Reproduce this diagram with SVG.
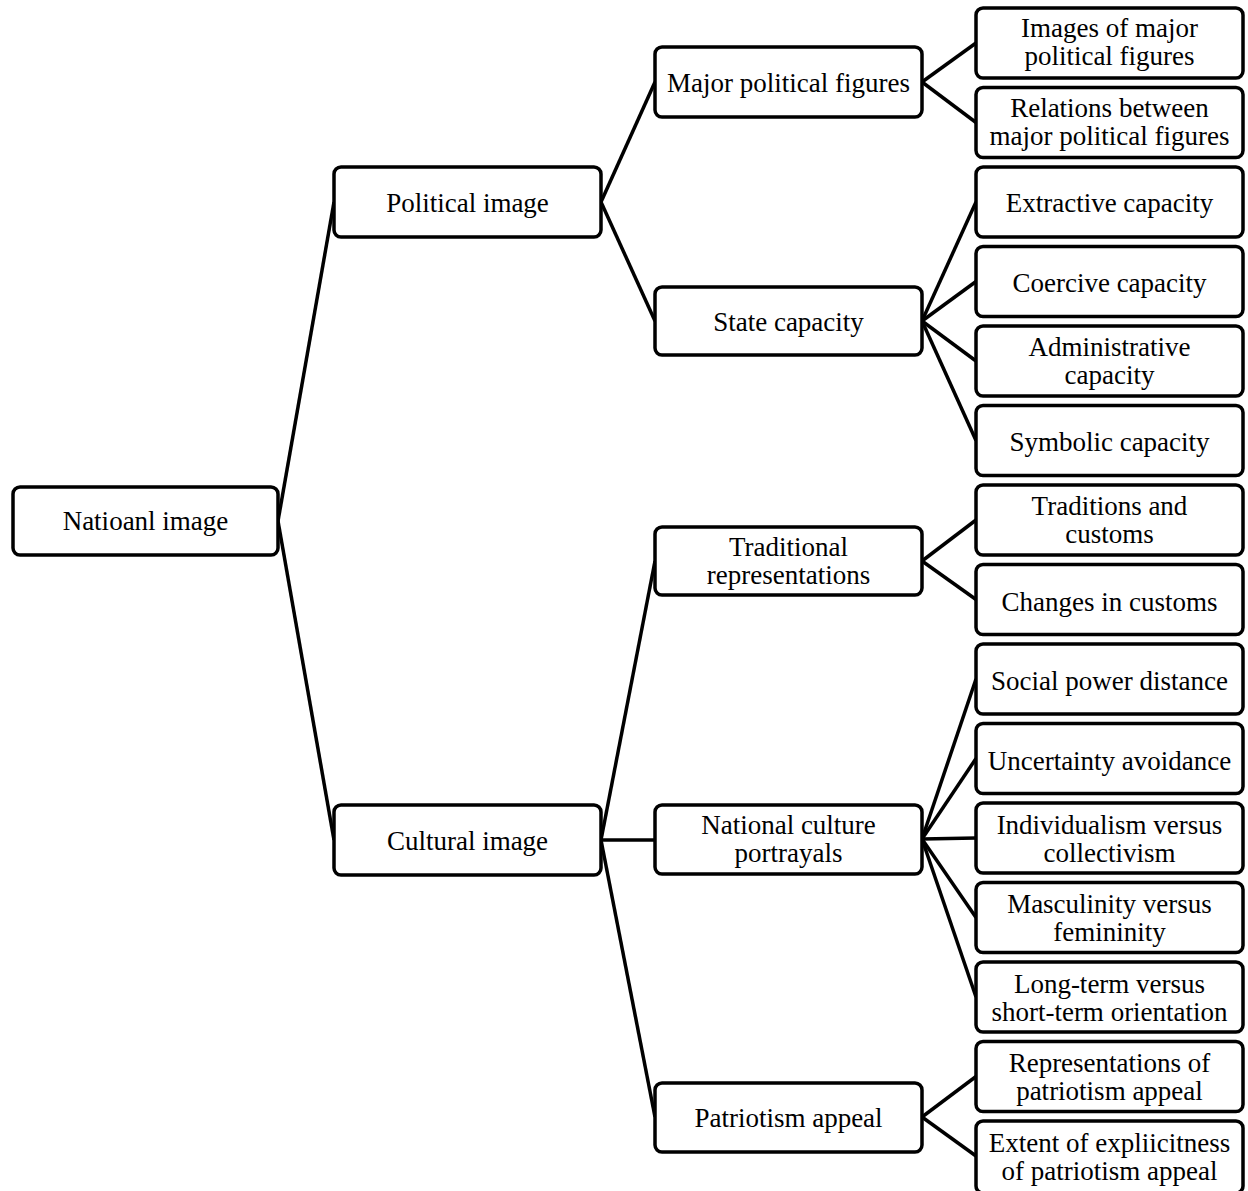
<svg xmlns="http://www.w3.org/2000/svg" width="1248" height="1191" viewBox="0 0 1248 1191">
<style>
.box{fill:#fff;stroke:#000;stroke-width:3.5}
.t{font-family:"Liberation Serif","Times New Roman",serif;font-size:27px;fill:#000;text-anchor:middle}
.c{stroke:#000;stroke-width:3.5;fill:none}
</style>
<rect width="1248" height="1191" fill="#fff"/>
<g id="connectors">
<line class="c" x1="278" y1="521" x2="334" y2="202"/>
<line class="c" x1="278" y1="521" x2="334" y2="840"/>
<line class="c" x1="601" y1="202" x2="655" y2="82"/>
<line class="c" x1="601" y1="202" x2="655" y2="321"/>
<line class="c" x1="601" y1="840" x2="655" y2="561"/>
<line class="c" x1="601" y1="840" x2="655" y2="840"/>
<line class="c" x1="601" y1="840" x2="655" y2="1117"/>
<line class="c" x1="922" y1="82" x2="976" y2="43"/>
<line class="c" x1="922" y1="82" x2="976" y2="122.5"/>
<line class="c" x1="922" y1="321" x2="976" y2="202"/>
<line class="c" x1="922" y1="321" x2="976" y2="281.5"/>
<line class="c" x1="922" y1="321" x2="976" y2="361"/>
<line class="c" x1="922" y1="321" x2="976" y2="440.5"/>
<line class="c" x1="922" y1="561" x2="976" y2="520"/>
<line class="c" x1="922" y1="561" x2="976" y2="599.5"/>
<line class="c" x1="922" y1="839" x2="976" y2="679"/>
<line class="c" x1="922" y1="839" x2="976" y2="758.5"/>
<line class="c" x1="922" y1="839" x2="976" y2="838"/>
<line class="c" x1="922" y1="839" x2="976" y2="917.5"/>
<line class="c" x1="922" y1="839" x2="976" y2="997"/>
<line class="c" x1="922" y1="1117" x2="976" y2="1076.5"/>
<line class="c" x1="922" y1="1117" x2="976" y2="1156"/>
</g>
<g id="root"><rect class="box" x="13" y="487" width="265" height="68" rx="7"/><text class="t" x="145.5" y="530">Natioanl image</text></g>
<g id="political"><rect class="box" x="334" y="167" width="267" height="70" rx="7"/><text class="t" x="467.5" y="212">Political image</text></g>
<g id="cultural"><rect class="box" x="334" y="805" width="267" height="70" rx="7"/><text class="t" x="467.5" y="850">Cultural image</text></g>
<g id="major"><rect class="box" x="655" y="47" width="267" height="70" rx="7"/><text class="t" x="788.5" y="92">Major political figures</text></g>
<g id="state"><rect class="box" x="655" y="287" width="267" height="68" rx="7"/><text class="t" x="788.5" y="331">State capacity</text></g>
<g id="traditional"><rect class="box" x="655" y="527" width="267" height="68" rx="7"/><text class="t" x="788.5" y="556">Traditional</text><text class="t" x="788.5" y="584">representations</text></g>
<g id="national"><rect class="box" x="655" y="805" width="267" height="69" rx="7"/><text class="t" x="788.5" y="834">National culture</text><text class="t" x="788.5" y="862">portrayals</text></g>
<g id="patriotism"><rect class="box" x="655" y="1083" width="267" height="69" rx="7"/><text class="t" x="788.5" y="1127">Patriotism appeal</text></g>
<g id="leaf1"><rect class="box" x="976" y="8" width="267" height="70" rx="7"/><text class="t" x="1109.5" y="37">Images of major</text><text class="t" x="1109.5" y="65">political figures</text></g>
<g id="leaf2"><rect class="box" x="976" y="87.5" width="267" height="70" rx="7"/><text class="t" x="1109.5" y="117">Relations between</text><text class="t" x="1109.5" y="145">major political figures</text></g>
<g id="leaf3"><rect class="box" x="976" y="167" width="267" height="70" rx="7"/><text class="t" x="1109.5" y="212">Extractive capacity</text></g>
<g id="leaf4"><rect class="box" x="976" y="246.5" width="267" height="70" rx="7"/><text class="t" x="1109.5" y="292">Coercive capacity</text></g>
<g id="leaf5"><rect class="box" x="976" y="326" width="267" height="70" rx="7"/><text class="t" x="1109.5" y="356">Administrative</text><text class="t" x="1109.5" y="384">capacity</text></g>
<g id="leaf6"><rect class="box" x="976" y="405.5" width="267" height="70" rx="7"/><text class="t" x="1109.5" y="451">Symbolic capacity</text></g>
<g id="leaf7"><rect class="box" x="976" y="485" width="267" height="70" rx="7"/><text class="t" x="1109.5" y="515">Traditions and</text><text class="t" x="1109.5" y="543">customs</text></g>
<g id="leaf8"><rect class="box" x="976" y="564.5" width="267" height="70" rx="7"/><text class="t" x="1109.5" y="611">Changes in customs</text></g>
<g id="leaf9"><rect class="box" x="976" y="644" width="267" height="70" rx="7"/><text class="t" x="1109.5" y="690">Social power distance</text></g>
<g id="leaf10"><rect class="box" x="976" y="723.5" width="267" height="70" rx="7"/><text class="t" x="1109.5" y="770">Uncertainty avoidance</text></g>
<g id="leaf11"><rect class="box" x="976" y="803" width="267" height="70" rx="7"/><text class="t" x="1109.5" y="834">Individualism versus</text><text class="t" x="1109.5" y="862">collectivism</text></g>
<g id="leaf12"><rect class="box" x="976" y="882.5" width="267" height="70" rx="7"/><text class="t" x="1109.5" y="913">Masculinity versus</text><text class="t" x="1109.5" y="941">femininity</text></g>
<g id="leaf13"><rect class="box" x="976" y="962" width="267" height="70" rx="7"/><text class="t" x="1109.5" y="993">Long-term versus</text><text class="t" x="1109.5" y="1021">short-term orientation</text></g>
<g id="leaf14"><rect class="box" x="976" y="1041.5" width="267" height="70" rx="7"/><text class="t" x="1109.5" y="1072">Representations of</text><text class="t" x="1109.5" y="1100">patriotism appeal</text></g>
<g id="leaf15"><rect class="box" x="976" y="1121" width="267" height="72" rx="7"/><text class="t" x="1109.5" y="1152">Extent of expliicitness</text><text class="t" x="1109.5" y="1180">of patriotism appeal</text></g>
</svg>
